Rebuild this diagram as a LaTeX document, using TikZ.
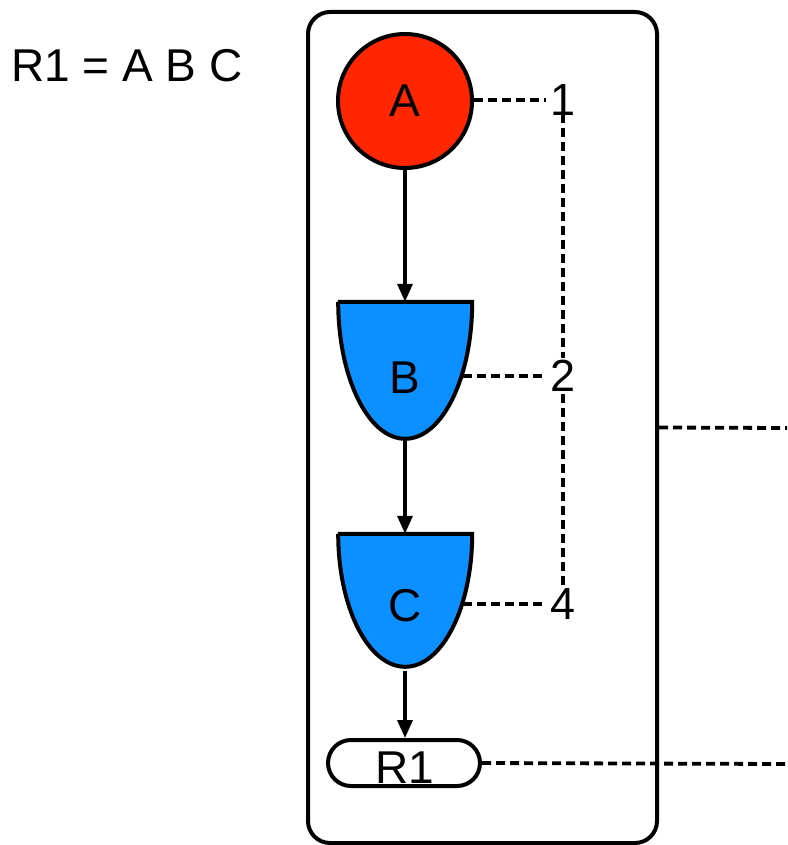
\documentclass[tikz,border=0pt]{standalone}
\usepackage{fontspec}
\setmainfont{Liberation Sans}
\usetikzlibrary{arrows.meta}
\definecolor{redA}{RGB}{255,38,0}
\definecolor{blueB}{RGB}{12,144,255}
\begin{document}
\begin{tikzpicture}[x=1pt,y=-1pt,
  txt/.style={font=\fontsize{46}{46}\selectfont, inner sep=0pt},
  num/.style={font=\fontsize{45}{45}\selectfont, inner sep=4pt},
  flow/.style={-{Triangle[length=18pt,width=15pt]}, line width=3.5pt},
  dashln/.style={dash pattern=on 9pt off 5pt, line width=3.8pt},
  shapeln/.style={line width=4pt},
  gate/.style={draw=none, minimum width=134pt, minimum height=137pt, inner sep=0pt}]
\useasboundingbox (0,0) rectangle (787,845);
% frame
\node[draw, shapeln, rounded corners=22pt, minimum width=349pt, minimum height=831pt, inner sep=0pt] (frame) at (482.5,427.5) {};
% equation
\node[txt, anchor=west] (eq) at (11,66) {R1 = A B C};
% A
\node[circle, draw, shapeln, fill=redA, minimum size=134pt, inner sep=0pt, txt] (A) at (405,101) {A};
% B gate
\node[gate] (B) at (405,370.5) {};
\draw[shapeln, fill=blueB] (B.north west) -- (B.north east) arc[start angle=0, end angle=-180, x radius=67pt, y radius=137pt] -- cycle;
\node[txt] (Blbl) at (405,378) {B};
\coordinate (Bright) at (463,376);
% C gate
\node[gate] (C) at (405,602.5) {};
\draw[shapeln, fill=blueB] (C.north west) -- (C.north east) arc[start angle=0, end angle=-180, x radius=67pt, y radius=133pt] -- cycle;
\node[txt] (Clbl) at (405,606) {C};
\coordinate (Cright) at (463,604);
% R1 pill
\node[draw, shapeln, rounded corners=23pt, minimum width=152pt, minimum height=46pt, inner sep=0pt] (R) at (404,763) {};
\node[txt] (Rlbl) at (405,768) {R1};
% flow arrows
\draw[flow] (A.south) -- (B.north);
\draw[flow] (B.south) -- (C.north);
\draw[flow] (C.south) -- (C.south |- R.north);
% numbers
\node[num] (n1) at (563,100) {1};
\node[num] (n2) at (563,376) {2};
\node[num] (n4) at (563,604) {4};
\draw[dashln] (A.east |- n1.west) -- (n1.west);
\draw[dashln] (Bright) -- (Bright -| n2.west);
\draw[dashln] (Cright) -- (Cright -| n4.west);
\draw[dashln] ([yshift=6pt]n1.south) -- ([yshift=-2pt]n2.north);
\draw[dashln] ([yshift=2pt]n2.south) -- ([yshift=-2pt]n4.north);
% outgoing lines
\coordinate (out1) at (787,428);
\coordinate (out2) at (787,764);
\draw[dashln] (frame.east) -- (out1);
\draw[dashln] (R.east) -- (out2);
\end{tikzpicture}
\end{document}
